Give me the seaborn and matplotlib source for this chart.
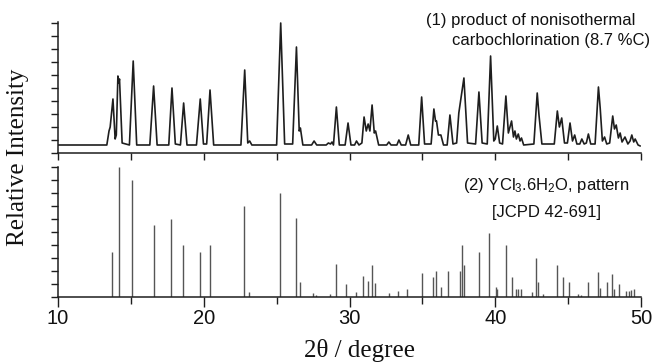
import numpy as np
import pandas as pd
import matplotlib
matplotlib.use("Agg")
import matplotlib.pyplot as plt
from matplotlib.ticker import MultipleLocator, NullFormatter
import seaborn as sns

# ---- data ----
# (1) measured XRD trace (2theta, relative intensity in arbitrary units)
trace_2theta = [10.0, 13.35, 13.50, 13.58, 13.77, 13.92, 14.00, 14.11, 14.17, 14.22, 14.40,
                14.90, 15.16, 15.40, 16.30, 16.56, 16.80, 17.60, 17.82, 18.05, 18.40, 18.62,
                18.85, 19.50, 19.76, 19.98, 20.20, 20.43, 20.68, 22.55, 22.81, 23.02, 23.15,
                23.30, 25.00, 25.28, 25.55, 26.10, 26.36, 26.55, 26.63, 26.80, 27.40, 27.57,
                27.75, 28.40, 28.55, 28.70, 28.80, 28.90, 29.10, 29.30, 29.70, 29.90, 30.10,
                30.35, 30.48, 30.65, 30.85, 31.00, 31.15, 31.28, 31.40, 31.55, 31.70, 31.79,
                32.00, 32.55, 32.70, 32.85, 33.25, 33.39, 33.55, 33.85, 34.03, 34.20, 34.75,
                34.95, 35.15, 35.60, 35.79, 35.90, 35.97, 36.10, 36.27, 36.45, 36.70, 36.89,
                37.10, 37.35, 37.50, 37.62, 37.85, 38.10, 38.65, 38.88, 38.98, 39.10, 39.45,
                39.68, 39.90, 40.00, 40.14, 40.30, 40.50, 40.73, 40.90, 41.12, 41.25, 41.35,
                41.45, 41.58, 41.70, 41.80, 41.95, 42.65, 42.88, 43.00, 43.20, 44.05, 44.26,
                44.40, 44.56, 44.75, 44.95, 45.13, 45.30, 45.45, 45.60, 45.80, 45.94, 46.10,
                46.25, 46.39, 46.55, 46.85, 47.08, 47.20, 47.35, 47.50, 47.65, 47.85, 48.06,
                48.18, 48.30, 48.45, 48.57, 48.70, 48.90, 49.10, 49.25, 49.37, 49.50, 49.60,
                49.80, 49.95]
trace_int = [8, 8, 22, 26, 54, 14, 18, 77, 70, 74, 10,
             8, 92, 8, 8, 67, 8, 8, 65, 9, 8, 50,
             8, 8, 54, 9, 9, 63, 8, 8, 83, 10, 12,
             8, 8, 130, 9, 9, 106, 22, 25, 8, 8, 12,
             8, 8, 10, 9, 11, 8, 46, 8, 8, 30, 8,
             8, 12, 8, 10, 36, 22, 29, 22, 48, 20, 22,
             8, 8, 11, 8, 8, 13, 8, 8, 18, 8, 8,
             56, 9, 9, 44, 32, 32, 18, 18, 8, 8, 38,
             9, 10, 40, 52, 75, 10, 9, 61, 38, 10, 9,
             97, 12, 14, 27, 10, 9, 57, 20, 32, 16, 22,
             14, 19, 12, 15, 8, 9, 60, 38, 9, 9, 42,
             26, 35, 10, 10, 30, 12, 18, 9, 9, 14, 9,
             10, 19, 9, 9, 66, 45, 12, 16, 9, 10, 37,
             24, 28, 15, 20, 11, 16, 9, 12, 18, 11, 14,
             8, 7]

# (2) YCl3.6H2O reference pattern, JCPD 42-691 (stick positions and heights)
ref_2theta = [13.72, 14.20, 15.10, 16.56, 17.77, 18.57, 19.74, 20.40, 22.74, 23.12,
              25.26, 26.31, 26.59, 27.50, 27.70, 28.65, 29.06, 29.79, 30.43, 30.94,
              31.24, 31.51, 31.74, 32.70, 33.34, 33.96, 34.95, 35.70, 35.93, 36.25,
              36.77, 37.58, 37.74, 37.85, 38.90, 39.59, 40.03, 40.10, 40.71, 41.12,
              41.40, 41.58, 41.76, 42.50, 42.80, 42.95, 43.30, 44.26, 44.63, 45.09,
              45.65, 45.90, 46.34, 47.08, 47.20, 47.65, 47.99, 48.15, 48.50, 49.00,
              49.17, 49.30, 49.50]
ref_int = [45, 130, 117, 72, 78, 52, 45, 52, 91, 5,
           104, 79, 15, 4, 2, 3, 33, 13, 5, 21,
           16, 32, 14, 4, 6, 8, 24, 20, 26, 10,
           26, 26, 52, 32, 45, 64, 10, 8, 52, 20,
           8, 8, 8, 5, 39, 15, 3, 32, 20, 15,
           3, 2, 15, 25, 9, 15, 23, 8, 13, 6,
           6, 7, 8]

x_ticks_major = [10, 20, 30, 40, 50]
x_tick_labels = ["10", "20", "30", "40", "50"]

trace_df = pd.DataFrame({"two_theta": trace_2theta, "intensity": trace_int})
ref_df = pd.DataFrame({"two_theta": ref_2theta, "intensity": ref_int})

# ---- style ----
sns.set_style("ticks")
plt.rcParams["font.family"] = ["Liberation Sans", "DejaVu Sans"]
plt.rcParams["mathtext.fontset"] = "custom"
plt.rcParams["mathtext.rm"] = "Liberation Sans"
plt.rcParams["mathtext.it"] = "Liberation Sans:italic"
plt.rcParams["axes.linewidth"] = 1.1

W, H = 668, 363
fig = plt.figure(figsize=(W / 100, H / 100), dpi=100)
fig.patch.set_facecolor("white")

left = 58 / W
width = (641 - 58) / W
ax1 = fig.add_axes([left, 1 - 153 / H, width, (153 - 22) / H])
ax2 = fig.add_axes([left, 1 - 297 / H, width, (297 - 167) / H])

ink = "#1e1e1e"

sns.lineplot(data=trace_df, x="two_theta", y="intensity", ax=ax1, color=ink,
             linewidth=1.2, estimator=None, sort=False)
ax2.vlines(ref_df["two_theta"], 0, ref_df["intensity"], colors="#555555", linewidth=1.0)

for ax in (ax1, ax2):
    ax.set_xlim(10, 50)
    ax.set_xlabel("")
    ax.set_ylabel("")
    ax.spines["top"].set_visible(False)
    ax.spines["right"].set_visible(False)
    for s in ("left", "bottom"):
        ax.spines[s].set_color(ink)
    ax.yaxis.set_major_locator(MultipleLocator(13))
    ax.yaxis.set_major_formatter(NullFormatter())
    ax.tick_params(axis="y", direction="out", length=5, width=1.0, color=ink)

ax1.set_ylim(0, 131)
ax2.set_ylim(0, 130)

ax1.xaxis.set_major_locator(MultipleLocator(5))
ax1.xaxis.set_major_formatter(NullFormatter())
ax1.tick_params(axis="x", direction="out", length=5, width=1.0, color=ink)

ax2.set_xticks(x_ticks_major)
ax2.set_xticklabels(x_tick_labels)
ax2.xaxis.set_minor_locator(MultipleLocator(5))
ax2.tick_params(axis="x", which="major", direction="out", length=7, width=1.0,
                color=ink, labelsize=14.5, pad=2, labelcolor="#111111")
ax2.tick_params(axis="x", which="minor", direction="out", length=5, width=1.0, color=ink)

# ---- texts ----
serif = ["Liberation Serif", "DejaVu Serif"]
fig.text(18 / W, 1 - 157 / H, "Relative Intensity", rotation=90, ha="center",
         va="center", fontsize=18, family=serif, color="#111111")
fig.text(359 / W, 1 - 350 / H, "2θ / degree", ha="center", va="center",
         fontsize=18, family=serif, color="#111111")

fig.text(426 / W, 1 - 20 / H, "(1) product of nonisothermal", ha="left", va="center",
         fontsize=12, color="#111111")
fig.text(452 / W, 1 - 40 / H, "carbochlorination (8.7 %C)", ha="left", va="center",
         fontsize=12, color="#111111")
fig.text(546 / W, 1 - 185 / H, r"(2) YCl$_3$.6H$_2$O, pattern", ha="center",
         va="center", fontsize=12, color="#111111")
fig.text(546 / W, 1 - 212 / H, "[JCPD 42-691]", ha="center", va="center",
         fontsize=12, color="#111111")

fig.savefig("out.png", dpi=100, facecolor="white")
